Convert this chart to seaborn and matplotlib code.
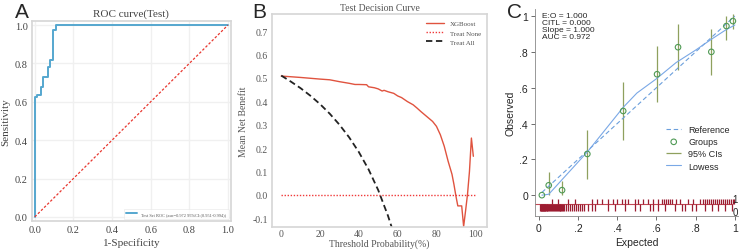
import numpy as np
import pandas as pd
import matplotlib
matplotlib.use("Agg")
import matplotlib.pyplot as plt
import seaborn as sns

# ---- panel A: ROC curve (test set)
roc_fpr = [0, 0, 0.012, 0.012, 0.03, 0.03, 0.04, 0.04, 0.069, 0.069, 0.078, 0.078,
           0.095, 0.095, 0.109, 0.109, 1.0]
roc_tpr = [0, 0.624, 0.624, 0.638, 0.638, 0.676, 0.676, 0.728, 0.728, 0.78, 0.78, 0.82,
           0.82, 0.974, 0.974, 1.0, 1.0]
roc_label = "Test Set ROC (auc=0.972 95%CI:(0.951-0.994))"

# ---- panel B: decision curve
dca_thresh = [0, 10, 20, 25, 30, 35, 38, 40, 44, 45, 48, 50, 52, 53, 55, 58, 60, 62, 65,
              68, 70, 72, 75, 78, 80, 82, 84, 86, 88, 89, 90, 91, 92, 93, 94, 95, 96, 97,
              98, 99]
dca_xgb = [0.508, 0.502, 0.495, 0.492, 0.484, 0.477, 0.472, 0.472, 0.471, 0.462, 0.458,
           0.453, 0.444, 0.447, 0.441, 0.434, 0.423, 0.416, 0.399, 0.385, 0.371, 0.356,
           0.335, 0.314, 0.293, 0.257, 0.208, 0.144, 0.088, 0.045, -0.004, -0.047,
           -0.047, -0.047, -0.135, -0.068, 0.003, 0.10, 0.243, 0.165]
all_thresh = [0, 5, 10, 15, 20, 25, 30, 35, 40, 45, 50, 55, 57]
dca_all = [0.51, 0.484, 0.456, 0.424, 0.388, 0.347, 0.30, 0.246, 0.183, 0.109, 0.02,
           -0.089, -0.14]
none_thresh = [0, 100]
dca_none = [0, 0]

# ---- panel C: calibration plot
grp_exp = [0.015, 0.05, 0.118, 0.247, 0.43, 0.603, 0.71, 0.88, 0.957, 0.99]
grp_obs = [0.0, 0.055, 0.028, 0.23, 0.47, 0.675, 0.826, 0.80, 0.944, 0.972]
grp_lo = [0.0, 0.0, 0.0, 0.09, 0.31, 0.52, 0.70, 0.668, 0.864, 0.93]
grp_hi = [0.0, 0.13, 0.08, 0.366, 0.634, 0.832, 0.953, 0.93, 1.0, 1.01]
low_x = [0.015, 0.05, 0.25, 0.43, 0.5, 0.6, 0.7, 0.8, 0.88, 0.95, 1.0]
low_y = [0.0, 0.005, 0.245, 0.49, 0.57, 0.65, 0.74, 0.81, 0.87, 0.92, 0.95]
ref_x = [0.015, 1.0]
ref_y = [0.015, 1.0]
pred_event = [0.065, 0.099, 0.15, 0.184, 0.269, 0.294, 0.32, 0.354, 0.379, 0.396, 0.422,
              0.439, 0.456, 0.49, 0.507, 0.532, 0.558, 0.583, 0.609, 0.63, 0.64, 0.65,
              0.66, 0.67, 0.68, 0.70, 0.72, 0.762, 0.787, 0.82, 0.84, 0.85, 0.86, 0.87,
              0.88, 0.89, 0.9, 0.91, 0.92, 0.93, 0.94, 0.95, 0.96, 0.97, 0.98, 0.99, 0.995]
pred_nonevent = [0.005, 0.01, 0.012, 0.015, 0.018, 0.02, 0.022, 0.025, 0.028, 0.03, 0.033,
                 0.036, 0.04, 0.043, 0.046, 0.05, 0.055, 0.06, 0.065, 0.07, 0.075, 0.08,
                 0.085, 0.09, 0.095, 0.10, 0.105, 0.11, 0.115, 0.12, 0.125, 0.13, 0.14,
                 0.15, 0.16, 0.17, 0.18, 0.19, 0.2, 0.21, 0.22, 0.23, 0.25, 0.27, 0.286,
                 0.354, 0.388, 0.439, 0.49, 0.515, 0.566, 0.583, 0.609, 0.643, 0.694,
                 0.728, 0.745, 0.779, 0.804, 0.847, 0.881, 0.915, 0.949, 0.983]
stats_text = "E:O = 1.000\nCITL = 0.000\nSlope = 1.000\nAUC = 0.972"

serif = ["Liberation Serif", "DejaVu Serif"]
sans = ["Liberation Sans", "DejaVu Sans"]

sns.set_theme(style="white")
fig = plt.figure(figsize=(7.4, 2.51), dpi=100)

# ================= A =================
with sns.axes_style("whitegrid", {"grid.color": "#f0f0f0", "axes.edgecolor": "#d6d6d6"}):
    axA = fig.add_axes([0.043, 0.116, 0.269, 0.796])
roc_df = pd.DataFrame({"fpr": roc_fpr, "tpr": roc_tpr})
sns.lineplot(data=roc_df, x="fpr", y="tpr", sort=False, estimator=None, ax=axA,
             color="#55a7cf", linewidth=1.4, label=roc_label)
axA.plot([0, 1], [0, 1], linestyle=(0, (2, 1.5)), color="#e8372f", linewidth=0.9)
axA.set_xlim(-0.0155, 1.0155)
axA.set_ylim(-0.021, 1.021)
axA.set_xticks(np.arange(0, 1.01, 0.2))
axA.set_yticks(np.arange(0, 1.01, 0.2))
axA.set_xticklabels([f"{v:.1f}" for v in np.arange(0, 1.01, 0.2)], family=serif,
                    fontsize=7.5, color="#444444")
axA.set_yticklabels([f"{v:.1f}" for v in np.arange(0, 1.01, 0.2)], family=serif,
                    fontsize=7.5, color="#444444")
axA.tick_params(length=0, pad=3)
axA.set_xlabel("1-Specificity", family=serif, fontsize=8, color="#444444", labelpad=2)
axA.set_ylabel("Sensitivity", family=serif, fontsize=8, color="#444444", labelpad=3)
axA.set_title("ROC curve(Test)", family=serif, fontsize=8, color="#444444", pad=4)
for s in axA.spines.values():
    s.set_linewidth(1.2)
leg = axA.legend(loc="lower right", prop={"family": serif, "size": 3.2}, frameon=True,
                 handlelength=2.5, borderpad=0.6)
leg.get_frame().set_edgecolor("#e6e6e6")
leg.get_frame().set_linewidth(0.5)
for t in leg.get_texts():
    t.set_color("#555555")

# ================= B =================
with sns.axes_style("white", {"axes.edgecolor": "#d6d6d6"}):
    axB = fig.add_axes([0.368, 0.09, 0.29, 0.85])
xgb_df = pd.DataFrame({"thresh": dca_thresh, "nb": dca_xgb})
sns.lineplot(data=xgb_df, x="thresh", y="nb", estimator=None, ax=axB, color="#e0533f",
             linewidth=1.0, label="XGBoost")
sns.lineplot(x=none_thresh, y=dca_none, estimator=None, ax=axB, color="#f03a3a",
             linewidth=1.0, linestyle=(0, (1, 1.2)), label="Treat None")
sns.lineplot(x=all_thresh, y=dca_all, estimator=None, ax=axB, color="#222222",
             linewidth=1.3, linestyle=(0, (3.5, 2)), label="Treat All")
axB.set_xlim(-4.6, 106)
axB.set_ylim(-0.139, 0.773)
axB.set_xticks(range(0, 101, 20))
axB.set_yticks(np.round(np.arange(-0.1, 0.71, 0.1), 1))
axB.set_xticklabels([str(v) for v in range(0, 101, 20)], family=serif, fontsize=7,
                    color="#555555")
axB.set_yticklabels([f"{v:.1f}" for v in np.arange(-0.1, 0.71, 0.1)], family=serif,
                    fontsize=7, color="#555555")
axB.tick_params(axis="y", length=0, pad=3)
axB.tick_params(axis="x", length=0, pad=1.5)
axB.set_xlabel("Threshold Probability(%)", family=serif, fontsize=7, color="#555555",
               labelpad=0)
axB.set_ylabel("Mean Net Benefit", family=serif, fontsize=7, color="#555555", labelpad=3)
axB.set_title("Test Decision Curve", family=serif, fontsize=7, color="#555555", pad=3)
for s in axB.spines.values():
    s.set_linewidth(1.2)
legB = axB.legend(loc="upper right", prop={"family": serif, "size": 5}, frameon=False,
                  handlelength=2.6, labelspacing=0.5)
for t in legB.get_texts():
    t.set_color("#555555")

# ================= C =================
with sns.axes_style("ticks"):
    axC = fig.add_axes([0.723, 0.135, 0.274, 0.825])
axC.vlines(grp_exp, grp_lo, grp_hi, color="#8fa05e", linewidth=0.9, label="95% CIs")
sns.lineplot(x=ref_x, y=ref_y, estimator=None, ax=axC, color="#6b9fdc", linewidth=0.8,
             linestyle=(0, (4, 2.5)), label="Reference")
sns.lineplot(x=low_x, y=low_y, estimator=None, ax=axC, color="#7aa8e6", linewidth=0.8,
             label="Lowess")
sns.scatterplot(x=grp_exp, y=grp_obs, ax=axC, marker="o", s=16, facecolor="none",
                edgecolor="#4f9a55", linewidth=0.8, label="Groups", zorder=5)
# rug of predicted risks: events above, non-events below
axC.axhline(-0.05, xmin=0.0, xmax=0.97, color="#c24a57", linewidth=0.8)
axC.vlines(pred_event, -0.05, -0.022, color="#9c1c31", linewidth=0.9)
axC.vlines(pred_nonevent, -0.05, -0.09, color="#9c1c31", linewidth=0.9)
axC.text(1.0, -0.022, "1", fontsize=7, family=sans, ha="center", va="center")
axC.text(1.0, -0.093, "0", fontsize=7, family=sans, ha="center", va="center")
axC.text(0.015, 1.025, stats_text, fontsize=6, family=sans, va="top", ha="left",
         linespacing=1.0)
axC.set_xlim(-0.02, 1.015)
axC.set_ylim(-0.117, 1.039)
ticks = [0, 0.2, 0.4, 0.6, 0.8, 1.0]
tick_txt = ["0", ".2", ".4", ".6", ".8", "1"]
axC.set_xticks(ticks)
axC.set_yticks(ticks)
axC.set_xticklabels(tick_txt, family=sans, fontsize=7.5)
axC.set_yticklabels(tick_txt, family=sans, fontsize=7.5)
axC.tick_params(length=3, width=0.6, color="#555555", pad=2)
axC.set_xlabel("Expected", family=sans, fontsize=7.5, labelpad=3)
axC.set_ylabel("Observed", family=sans, fontsize=7.5, labelpad=3)
sns.despine(ax=axC)
for s in ("left", "bottom"):
    axC.spines[s].set_color("#888888")
    axC.spines[s].set_linewidth(0.6)
h, l = axC.get_legend_handles_labels()
order = [l.index(k) for k in ["Reference", "Groups", "95% CIs", "Lowess"]]
legC = axC.legend([h[i] for i in order], [l[i] for i in order], loc="center right",
                  bbox_to_anchor=(1.0, 0.33), prop={"family": sans, "size": 6.5},
                  frameon=False, handlelength=1.6, labelspacing=0.35)

# panel letters
for x, lab in [(0.030, "A"), (0.350, "B"), (0.695, "C")]:
    fig.text(x, 0.95, lab, fontsize=15, family=sans, ha="center", va="center")

fig.savefig("out.png", dpi=100)
